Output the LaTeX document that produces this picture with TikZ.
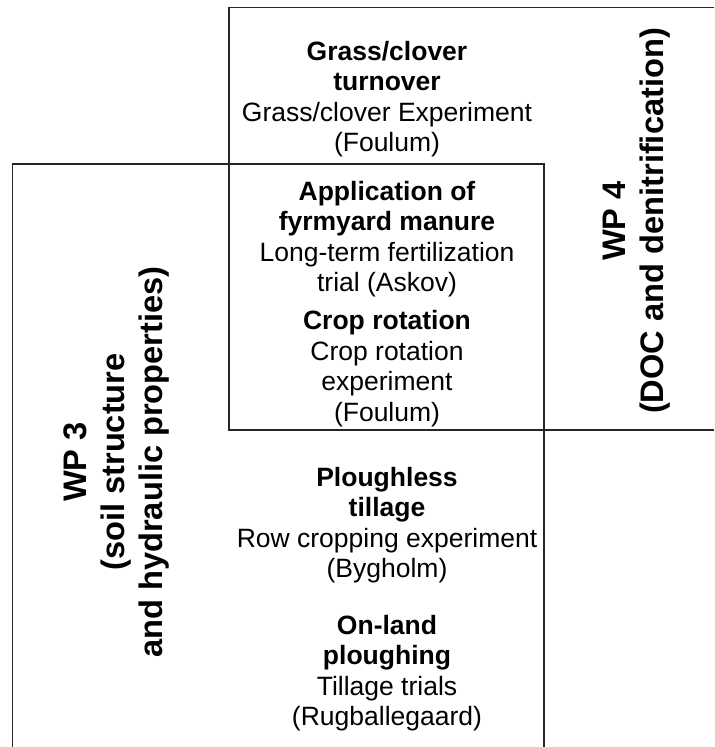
\documentclass[tikz,border=0pt]{standalone}
\usepackage{fontspec}
\setmainfont{Liberation Sans}
\begin{document}
\begin{tikzpicture}[x=0.5pt,y=-0.5pt,
  frame/.style={draw=black!85,line width=0.7pt},
  block/.style={align=center,inner sep=0pt,font=\fontsize{13.25pt}{15.25pt}\selectfont},
  wplabel/.style={align=center,inner sep=0pt,rotate=90,font=\fontsize{16.3pt}{19pt}\selectfont\bfseries}]
\useasboundingbox (0,0) rectangle (714,747);
% frames
\coordinate (a1) at (714,7.5);
\coordinate (a2) at (229,7.5);
\coordinate (a3) at (229,430);
\coordinate (a4) at (714,430);
\coordinate (b1) at (12.7,747);
\coordinate (b2) at (12.7,164);
\coordinate (b3) at (544,164);
\coordinate (b4) at (544,747);
\draw[frame] (a1) -- (a2) -- (a3) -- (a4);
\draw[frame] (b1) -- (b2) -- (b3) -- (b4);
% texts
\node[block] (grass) at (387,99) {\textbf{Grass/clover}\\\textbf{turnover}\\Grass/clover Experiment\\(Foulum)};
\node[block] (manure) at (387,239) {\textbf{Application of}\\\textbf{fyrmyard manure}\\Long-term fertilization\\trial (Askov)};
\node[block] (crop) at (387,368.5) {\textbf{Crop rotation}\\Crop rotation\\experiment\\(Foulum)};
\node[block] (plough) at (387,525) {\textbf{Ploughless}\\\textbf{tillage}\\Row cropping experiment\\(Bygholm)};
\node[block] (onland) at (387,673) {\textbf{On-land}\\\textbf{ploughing}\\Tillage trials\\(Rugballegaard)};
\node[wplabel] (wp4) at (637,221) {WP 4\\(DOC and denitrification)};
\node[wplabel] (wp3) at (116,462) {WP 3\\(soil structure\\and hydraulic properties)};
\end{tikzpicture}
\end{document}
